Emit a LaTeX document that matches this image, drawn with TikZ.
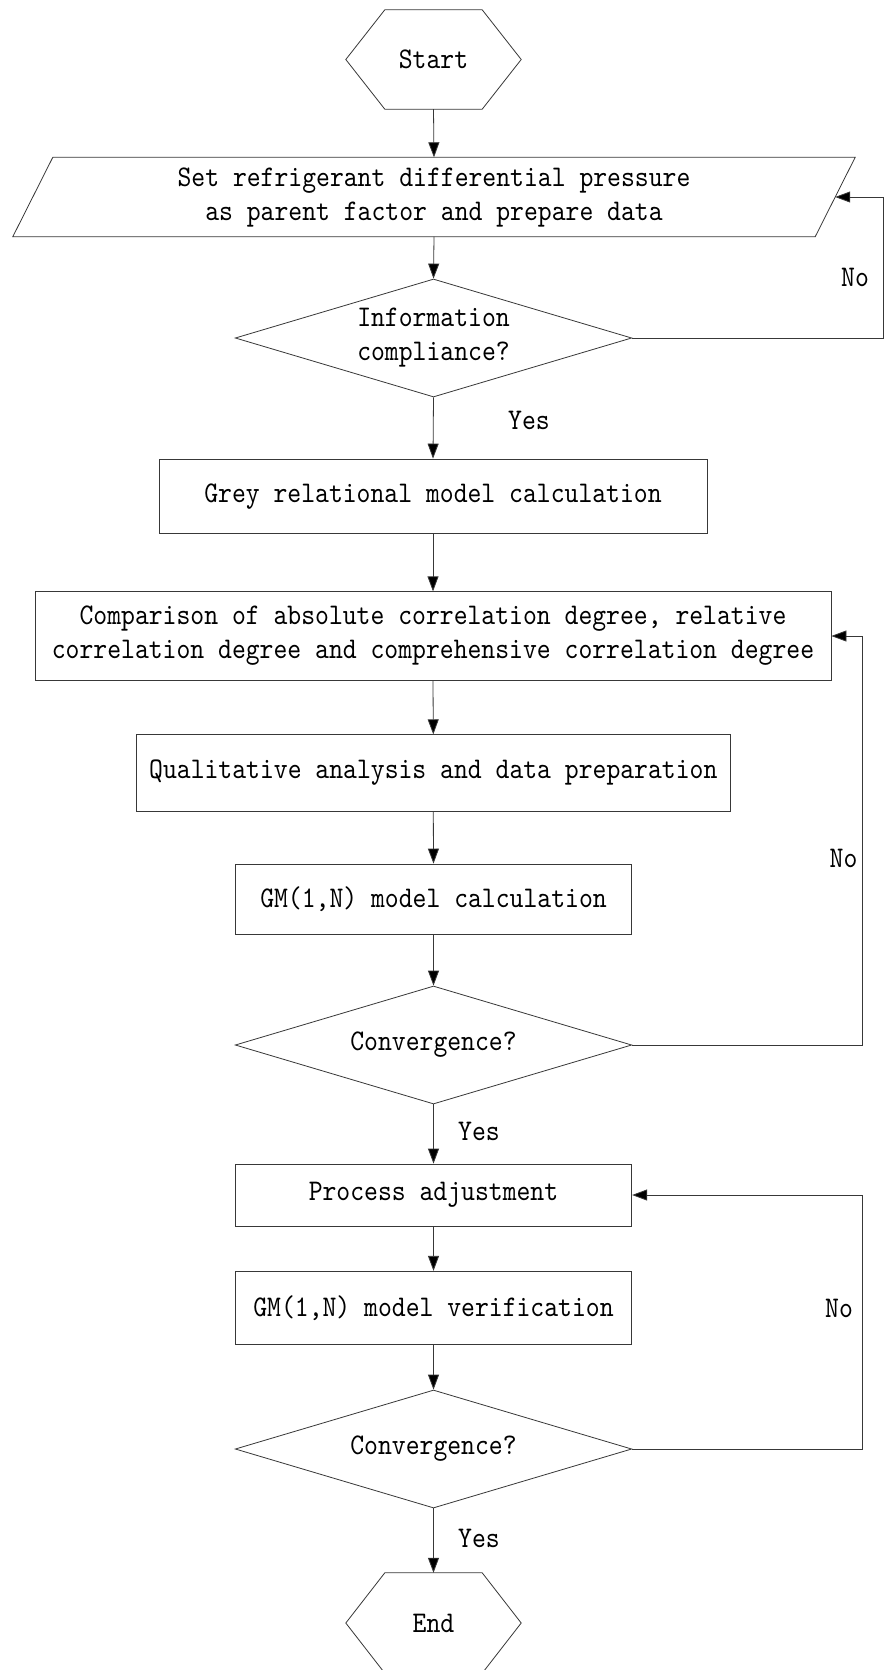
\documentclass[tikz,border=0pt]{standalone}
\usepackage{fontspec}
\setmainfont{lmmono10-regular.otf}[FakeStretch=0.88]
\usetikzlibrary{shapes.geometric,arrows.meta}
\newcommand{\flowfont}{\fontsize{30}{34}\selectfont}
\begin{document}
\begin{tikzpicture}[x=1pt,y=-1pt,
  line/.style={draw=black!78, line width=0.8pt},
  box/.style={line, rectangle, inner sep=0pt, align=center, font=\flowfont},
  plain/.style={rectangle, inner sep=0pt, align=center, font=\flowfont},
  dec/.style={line, diamond, aspect=3.36, inner sep=0pt, align=center, minimum width=396.5pt, minimum height=118pt, font=\flowfont},
  lab/.style={inner sep=0pt, font=\flowfont},
  arr/.style={line, -{Triangle[length=15pt,width=11pt,fill=black]}},
]
\fill[white] (0,0) rectangle (885,1670);
\useasboundingbox (0,0) rectangle (885,1670);

% nodes
\node[plain, minimum width=175pt, minimum height=99pt] (start) at (433.5,59.5) {Start};
\draw[line] (start.west) -- ([xshift=39pt]start.north west) -- ([xshift=-39pt]start.north east) -- (start.east) -- ([xshift=-39pt]start.south east) -- ([xshift=39pt]start.south west) -- cycle;

\node[plain, minimum width=802pt, minimum height=79pt] (para) at (434,197) {Set refrigerant differential pressure\\as parent factor and prepare data};
\draw[line] ([xshift=-20pt]para.south west) -- ([xshift=20pt]para.north west) -- ([xshift=20pt]para.north east) -- ([xshift=-20pt]para.south east) -- cycle;

\node[dec] (d1) at (433.5,338) {Information\\compliance?};
\node[box, minimum width=548pt, minimum height=74.6pt] (grey) at (433,496.3) {Grey relational model calculation};
\node[box, minimum width=796pt, minimum height=88.5pt] (comp) at (433,636) {Comparison of absolute correlation degree, relative\\correlation degree and comprehensive correlation degree};
\node[box, minimum width=594.6pt, minimum height=76.5pt] (qual) at (433.3,773) {Qualitative analysis and data preparation};
\node[box, minimum width=396.5pt, minimum height=70pt] (gmc) at (433.5,899) {GM(1,N) model calculation};
\node[dec] (d2) at (433.5,1045) {Convergence?};
\node[box, minimum width=396.5pt, minimum height=62pt] (proc) at (433.5,1195) {Process adjustment};
\node[box, minimum width=396.5pt, minimum height=73.5pt] (gmv) at (433.5,1308) {GM(1,N) model verification};
\node[dec] (d3) at (433.5,1449) {Convergence?};

\node[plain, minimum width=175pt, minimum height=100pt] (end) at (433.5,1623) {End};
\draw[line] (end.west) -- ([xshift=39pt]end.north west) -- ([xshift=-39pt]end.north east) -- (end.east) -- ([xshift=-39pt]end.south east) -- ([xshift=39pt]end.south west) -- cycle;

% loop columns
\coordinate (c1) at (883,0);
\coordinate (c2) at (862.6,0);

% connectors
\draw[arr] (start.south) -- (para.north);
\draw[arr] (para.south) -- (d1.north);
\draw[arr] (d1.south) -- (grey.north);
\draw[arr] (d1.east) -- (d1.east -| c1) |- (para.east);
\draw[arr] (grey.south) -- (comp.north);
\draw[arr] (comp.south) -- (qual.north);
\draw[arr] (qual.south) -- (gmc.north);
\draw[arr] (gmc.south) -- (d2.north);
\draw[arr] (d2.east) -- (d2.east -| c2) |- (comp.east);
\draw[arr] (d2.south) -- (proc.north);
\draw[arr] (proc.south) -- (gmv.north);
\draw[arr] (gmv.south) -- (d3.north);
\draw[arr] (d3.east) -- (d3.east -| c2) |- (proc.east);
\draw[arr] (d3.south) -- (end.north);

% labels
\node[lab] (no1) at (855,277) {No};
\node[lab] (yes1) at (529,420) {Yes};
\node[lab] (no2) at (843.5,858) {No};
\node[lab] (yes2) at (479,1131) {Yes};
\node[lab] (no3) at (839,1308) {No};
\node[lab] (yes3) at (479,1538) {Yes};
\end{tikzpicture}
\end{document}
